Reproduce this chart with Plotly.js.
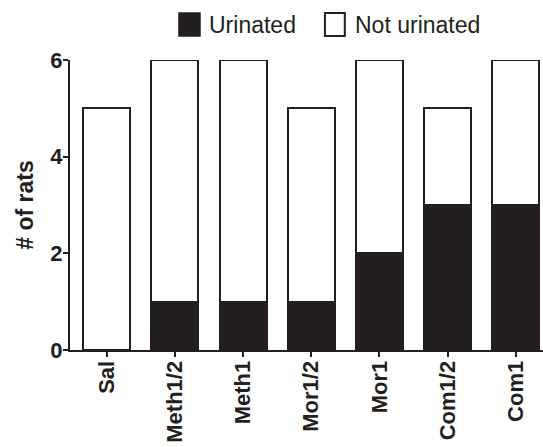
<!DOCTYPE html>
<html><head><meta charset="utf-8">
<script src="https://cdn.plot.ly/plotly-3.0.1.min.js"></script>
<style>html,body{margin:0;padding:0;background:#fff}</style>
</head><body>
<div id="chart" style="width:543px;height:447px"></div>
<script>
var categories = ["Sal", "Meth1/2", "Meth1", "Mor1/2", "Mor1", "Com1/2", "Com1"];
var urinated = [0, 1, 1, 1, 2, 3, 3];
var notUrinated = [5, 5, 5, 4, 4, 2, 3];
var seriesNames = ["Urinated", "Not urinated"];
var yTicks = [0, 2, 4, 6];

var ink = "#231f20";
var traces = [
  {type: "bar", x: categories, y: urinated, name: seriesNames[0],
   marker: {color: ink, line: {color: ink, width: 2}}, showlegend: false},
  {type: "bar", x: categories, y: notUrinated, name: seriesNames[1],
   marker: {color: "#ffffff", line: {color: ink, width: 2}}, showlegend: false}
];

var layout = {
  width: 543, height: 447,
  margin: {l: 70, r: 0, t: 60, b: 97},
  paper_bgcolor: "#fff", plot_bgcolor: "#fff",
  barmode: "stack", bargap: 0.31,
  font: {family: "Liberation Sans, Arial, sans-serif", color: ink},
  xaxis: {
    type: "category", range: [-0.54, 6.4],
    showline: true, linecolor: ink, linewidth: 2,
    ticks: "outside", ticklen: 5, tickwidth: 2, tickcolor: ink,
    ticklabelstandoff: -5,
    tickangle: -90, showgrid: false, zeroline: false,
    tickfont: {size: 22, family: "Liberation Sans, Arial, sans-serif", weight: "bold", color: ink}
  },
  yaxis: {
    range: [0, 6], tickvals: yTicks, ticktext: yTicks.map(String),
    showline: true, linecolor: ink, linewidth: 2,
    ticks: "outside", ticklen: 5, tickwidth: 2, tickcolor: ink,
    ticklabelstandoff: -4,
    showgrid: false, zeroline: false,
    tickfont: {size: 22, family: "Liberation Sans, Arial, sans-serif", weight: "bold", color: ink},
    title: {text: "# of rats", standoff: 10,
      font: {size: 23, family: "Liberation Sans, Arial, sans-serif", weight: "bold", color: ink}}
  },
  shapes: [
    {type: "rect", xref: "paper", yref: "paper", x0: 0.2304, x1: 0.2748, y0: 1.083, y1: 1.162,
     fillcolor: ink, line: {color: ink, width: 1.5}},
    {type: "rect", xref: "paper", yref: "paper", x0: 0.539, x1: 0.581, y0: 1.083, y1: 1.162,
     fillcolor: "#fff", line: {color: ink, width: 2}}
  ],
  annotations: [
    {xref: "paper", yref: "paper", x: 0.29, y: 1.121, xanchor: "left", yanchor: "middle",
     text: seriesNames[0], showarrow: false, font: {size: 23, color: ink}},
    {xref: "paper", yref: "paper", x: 0.598, y: 1.121, xanchor: "left", yanchor: "middle",
     text: seriesNames[1], showarrow: false, font: {size: 23, color: ink}}
  ]
};

Plotly.newPlot("chart", traces, layout, {displayModeBar: false, staticPlot: true});
</script>
</body></html>
